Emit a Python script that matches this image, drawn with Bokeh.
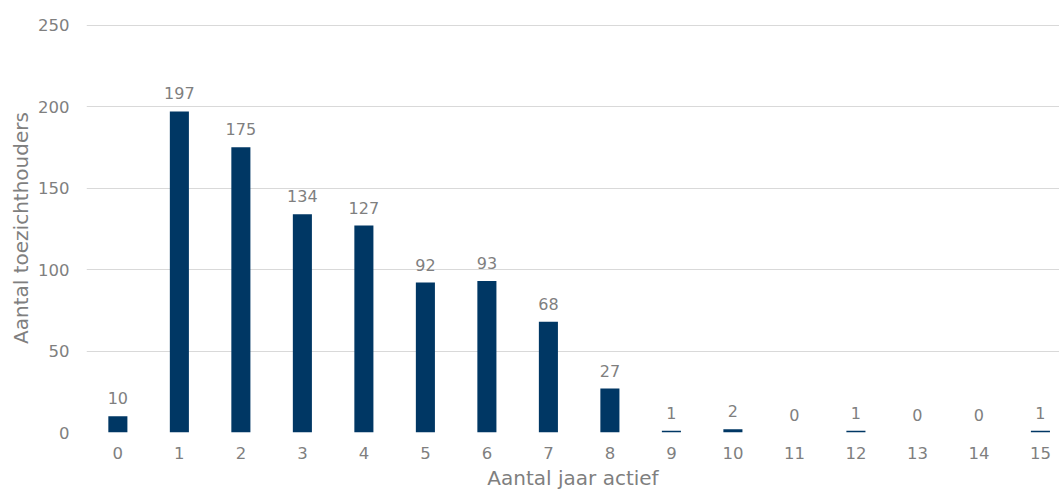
from bokeh.plotting import figure
from bokeh.models import ColumnDataSource, FixedTicker, Range1d, Title
from bokeh.core.properties import value
from bokeh.embed import file_html
from bokeh.resources import INLINE

years = [0, 1, 2, 3, 4, 5, 6, 7, 8, 9, 10, 11, 12, 13, 14, 15]
counts = [10, 197, 175, 134, 127, 92, 93, 68, 27, 1, 2, 0, 1, 0, 0, 1]
y_ticks = [0, 50, 100, 150, 200, 250]

BAR = "#003764"
GREY = "#7f7f7f"
FONT = "DejaVu Sans"

src = ColumnDataSource(dict(x=years, y=counts, lbl=[str(c) for c in counts]))

p = figure(width=1059, height=493, output_backend="svg", toolbar_location=None,
           x_range=Range1d(-0.51, 15.31), y_range=Range1d(0, 251),
           min_border_left=86, min_border_right=0, min_border_top=23, min_border_bottom=61)
p.outline_line_color = None
p.background_fill_color = "white"
p.border_fill_color = "white"

p.vbar(x="x", top="y", width=0.31, source=src, fill_color=BAR, line_color=None)
p.text(x="x", y="y", text="lbl", source=src, y_offset=-12,
       text_align="center", text_baseline="bottom",
       text_font=value(FONT), text_font_size="16px", text_color=GREY)

p.xaxis.ticker = FixedTicker(ticks=years)
p.yaxis.ticker = FixedTicker(ticks=y_ticks)
p.xgrid.grid_line_color = None
p.ygrid.grid_line_color = "#d9d9d9"
p.ygrid.grid_line_width = 1

for ax in (p.xaxis[0], p.yaxis[0]):
    ax.axis_line_color = None
    ax.major_tick_line_color = None
    ax.minor_tick_line_color = None
    ax.major_tick_out = 0
    ax.major_tick_in = 0
    ax.minor_tick_out = 0
    ax.major_label_text_font = FONT
    ax.major_label_text_font_size = "16.5px"
    ax.major_label_text_color = GREY
    ax.axis_label_text_font = FONT
    ax.axis_label_text_font_size = "20px"
    ax.axis_label_text_font_style = "normal"
    ax.axis_label_text_color = GREY

p.xaxis.axis_label = "Aantal jaar actief"
p.xaxis.major_label_standoff = 14
p.xaxis.axis_label_standoff = 4
p.yaxis.major_label_standoff = 17

ytitle = Title(text="Aantal toezichthouders", align="center", offset=16, standoff=6,
               text_font=FONT, text_font_size="20px", text_font_style="normal",
               text_color=GREY)
p.add_layout(ytitle, "left")

open("out.html", "w").write(file_html(p, INLINE))
